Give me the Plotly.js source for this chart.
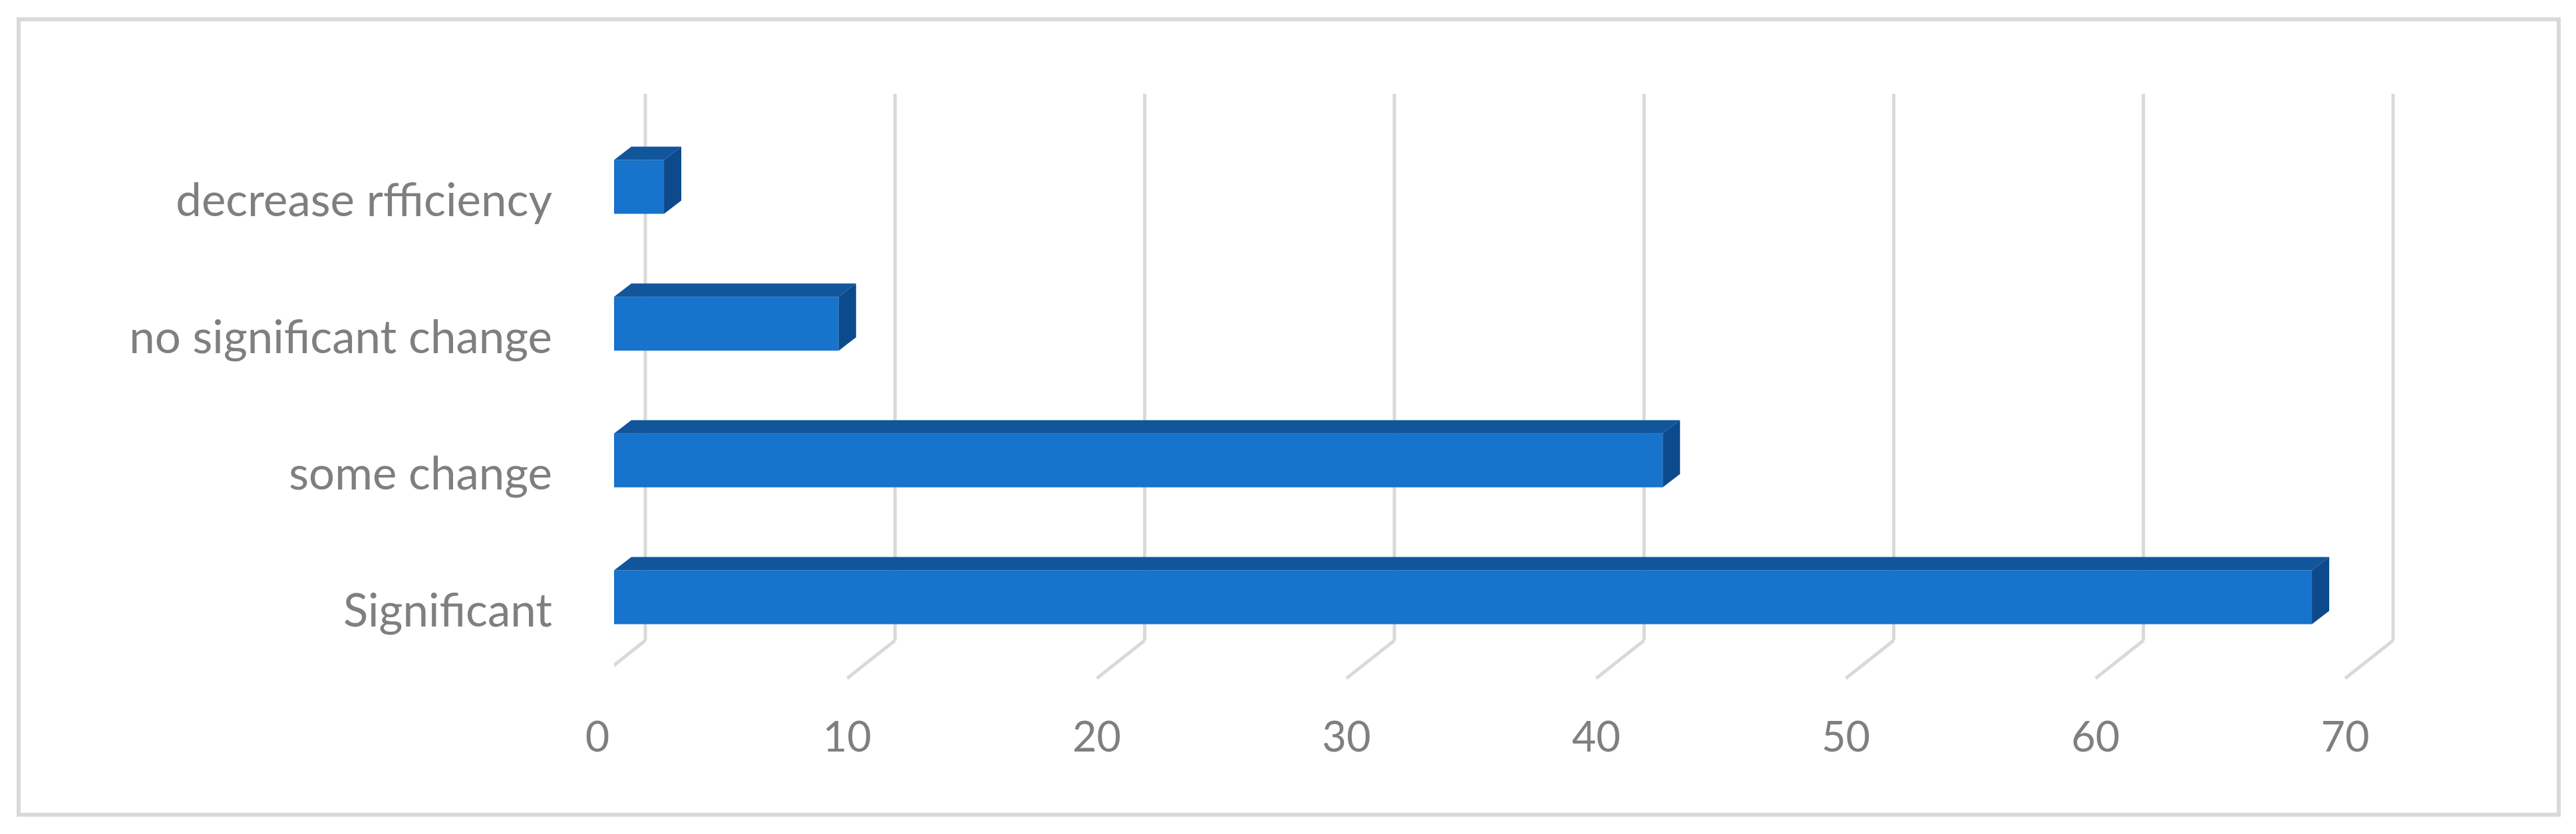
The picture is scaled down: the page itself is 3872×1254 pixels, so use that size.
<!DOCTYPE html>
<html>
<head>
<meta charset="utf-8">
<script src="https://cdn.plot.ly/plotly-3.0.1.min.js"></script>
<style>html,body{margin:0;padding:0;background:#fff;}#chart{width:3872px;height:1254px;}</style>
</head>
<body>
<div id="chart"></div>
<script>
// ---- data ----
const categories = ['Significant', 'some change', 'no significant change', 'decrease rfficiency'];
const values = [68, 42, 9, 2];
const tickValues = [0, 10, 20, 30, 40, 50, 60, 70];
const tickLabels = ['0', '10', '20', '30', '40', '50', '60', '70'];

// ---- geometry (pixels) ----
const W = 3872, H = 1254;
const PXU = 37.53;            // pixels per unit
const frontX0 = 923;          // value 0 on bar front plane
const backX0 = 970;           // value 0 on back wall
const floorX0 = 898;          // value 0 on floor front edge
const rightPx = 3800;
const catTop = 281, catBottom = 898;
const catStep = (catBottom - catTop) / 3;
const yDomTopPx = catTop - catStep / 2, yDomBotPx = catBottom + catStep / 2;
const gridTopPx = 141, gridBotPx = 963, floorFrontPx = 1020;
const barW = 81 / catStep;
const depthDx = 26 / PXU, depthDy = 20 / catStep;

const px = v => v / W;
const py = v => 1 - v / H;

const idx = categories.map((c, i) => i);

const traces = [
  {
    type: 'bar', orientation: 'h',
    x: values, y: idx, width: barW,
    marker: {color: '#1873CC', line: {width: 0}},
    xaxis: 'x', yaxis: 'y', hoverinfo: 'x+text', text: categories, textposition: 'none',
    showlegend: false
  },
  {
    type: 'scatter', mode: 'markers', x: [0], y: [0], xaxis: 'x2', yaxis: 'y',
    marker: {opacity: 0}, hoverinfo: 'skip', showlegend: false
  }
];

const shapes = [];
// border
shapes.push({type: 'rect', xref: 'paper', yref: 'paper', x0: px(28), x1: px(3846), y0: py(29), y1: py(1225),
  line: {color: '#D9D9D9', width: 6}, layer: 'below'});
// back wall gridlines and floor lines
const backOff = (backX0 - frontX0) / PXU;
const floorOff = (floorX0 - backX0) / PXU;
tickValues.forEach(v => {
  shapes.push({type: 'line', xref: 'x', yref: 'paper', x0: v + backOff, x1: v + backOff,
    y0: py(gridBotPx), y1: py(gridTopPx), line: {color: '#D9D9D9', width: 5}, layer: 'below'});
  shapes.push({type: 'line', xref: 'x', yref: 'paper', x0: v + backOff, x1: v + backOff + floorOff,
    y0: py(gridBotPx), y1: py(floorFrontPx), line: {color: '#D9D9D9', width: 5}, layer: 'below'});
});
// 3D faces of bars
values.forEach((v, i) => {
  const t = i + barW / 2, b = i - barW / 2;
  shapes.push({type: 'path', xref: 'x', yref: 'y',
    path: `M 0,${t} L ${v},${t} L ${v + depthDx},${t + depthDy} L ${depthDx},${t + depthDy} Z`,
    fillcolor: '#11559B', line: {width: 0}});
  shapes.push({type: 'path', xref: 'x', yref: 'y',
    path: `M ${v},${b} L ${v + depthDx},${b + depthDy} L ${v + depthDx},${t + depthDy} L ${v},${t} Z`,
    fillcolor: '#0C4A8C', line: {width: 0}});
});

const fontX = {family: 'Lato, "Open Sans", sans-serif', size: 63, color: '#7F7F7F'};
const fontY = {family: 'Lato, "Open Sans", sans-serif', size: 69, color: '#7F7F7F'};

const layout = {
  width: W, height: H,
  margin: {l: 0, r: 0, t: 0, b: 0},
  paper_bgcolor: '#FFFFFF', plot_bgcolor: 'rgba(0,0,0,0)',
  showlegend: false,
  font: fontX,
  xaxis: {
    domain: [px(frontX0), px(rightPx)], range: [0, (rightPx - frontX0) / PXU],
    showgrid: false, zeroline: false, showline: false, showticklabels: false, ticks: '',
    fixedrange: true, anchor: 'y'
  },
  xaxis2: {
    domain: [px(floorX0), px(rightPx)], range: [0, (rightPx - floorX0) / PXU],
    anchor: 'free', position: py(floorFrontPx),
    tickmode: 'array', tickvals: tickValues, ticktext: tickLabels,
    showgrid: false, zeroline: false, showline: false, ticks: '',
    ticklabelstandoff: 46, tickfont: fontX, fixedrange: true
  },
  yaxis: {
    domain: [py(yDomBotPx), py(yDomTopPx)], range: [-0.5, 3.5],
    tickmode: 'array', tickvals: idx, ticktext: categories,
    showgrid: false, zeroline: false, showline: false, ticks: '',
    ticklabelstandoff: 92, ticklabelshift: 20, tickfont: fontY, fixedrange: true, anchor: 'x'
  },
  shapes: shapes
};

Plotly.newPlot('chart', traces, layout, {displayModeBar: false, staticPlot: true});
</script>
</body>
</html>
